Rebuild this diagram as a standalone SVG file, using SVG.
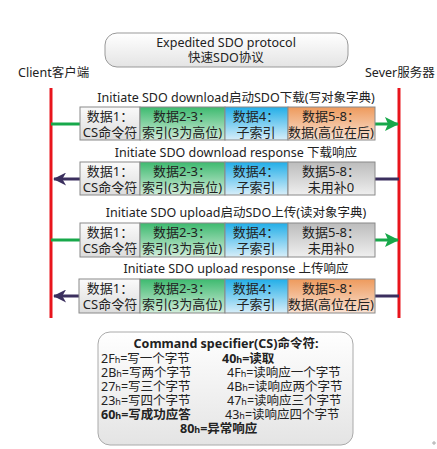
<svg xmlns="http://www.w3.org/2000/svg" width="437" height="449" viewBox="0 0 437 449">
<style>
text{font-family:"Noto Sans","Noto Sans CJK SC",sans-serif;fill:#222;font-size:13px}
.c{text-anchor:middle}
.b{font-weight:bold}
.l{font-size:12.5px}
.lg{font-size:12.5px}
.box{stroke:#8a8a8a;stroke-width:1}
.red{stroke:#e8141c;stroke-width:3}
.g{stroke:#17a84a;stroke-width:3;fill:none}
.p{stroke:#3b2f5e;stroke-width:3;fill:none}
.s{font-size:9px}
</style>
<defs>
<linearGradient id="gw" x1="0" y1="0" x2="0" y2="1"><stop offset="0" stop-color="#fafafa"/><stop offset="1" stop-color="#dcdcdc"/></linearGradient>
<linearGradient id="gg" x1="0" y1="0" x2="0" y2="1"><stop offset="0" stop-color="#3dba6f"/><stop offset="1" stop-color="#d2ecda"/></linearGradient>
<linearGradient id="gb" x1="0" y1="0" x2="0" y2="1"><stop offset="0" stop-color="#22aee8"/><stop offset="1" stop-color="#d8eef9"/></linearGradient>
<linearGradient id="go" x1="0" y1="0" x2="0" y2="1"><stop offset="0" stop-color="#ee9a5c"/><stop offset="1" stop-color="#f9e2d3"/></linearGradient>
<linearGradient id="gy" x1="0" y1="0" x2="0" y2="1"><stop offset="0" stop-color="#bcbcbc"/><stop offset="1" stop-color="#efefef"/></linearGradient>
<linearGradient id="gt" x1="0" y1="0" x2="0" y2="1"><stop offset="0" stop-color="#ffffff"/><stop offset="1" stop-color="#e4e4e4"/></linearGradient>
<marker id="ag" viewBox="0 0 14 14" refX="13" refY="7" markerWidth="14" markerHeight="14" markerUnits="userSpaceOnUse" orient="auto"><path d="M0,0 L14,7 L0,14 L3,7 Z" fill="#17a84a"/></marker>
<marker id="ap" viewBox="0 0 14 14" refX="13" refY="7" markerWidth="15" markerHeight="13" markerUnits="userSpaceOnUse" orient="auto"><path d="M0,0 L14,7 L0,14 L4,7 Z" fill="#3b2f5e"/></marker>
</defs>

<g id="title">
<rect x="105" y="33" width="243" height="34" rx="12" fill="url(#gt)" stroke="#999"/>
<text class="c l" x="226" y="47">Expedited SDO protocol</text>
<text class="c l" x="226" y="62">快速SDO协议</text>
</g>
<g id="client"><text class="l" x="18" y="77">Client客户端</text><line class="red" x1="51" y1="88" x2="51" y2="318"/></g>
<g id="server"><text class="l" x="365" y="77">Sever服务器</text><line class="red" x1="399" y1="88" x2="399" y2="318"/></g>

<g id="connectors">
<line class="g" x1="51" y1="124" x2="80" y2="124"/>
<line class="g" x1="375" y1="124" x2="398" y2="124" marker-end="url(#ag)"/>
<line class="p" x1="80" y1="179" x2="54" y2="179" marker-end="url(#ap)"/>
<line class="p" x1="399" y1="179" x2="375" y2="179"/>
<line class="g" x1="51" y1="240" x2="80" y2="240"/>
<line class="g" x1="375" y1="240" x2="398" y2="240" marker-end="url(#ag)"/>
<line class="p" x1="80" y1="296" x2="54" y2="296" marker-end="url(#ap)"/>
<line class="p" x1="399" y1="296" x2="375" y2="296"/>
</g>

<g id="row1">
<text class="c l" x="236" y="102">Initiate SDO download启动SDO下载(写对象字典)</text>
<rect class="box" x="80" y="107" width="60" height="33" fill="url(#gw)"/>
<rect class="box" x="140" y="107" width="85" height="33" fill="url(#gg)"/>
<rect class="box" x="225" y="107" width="63" height="33" fill="url(#gb)"/>
<rect class="box" x="288" y="107" width="87" height="33" fill="url(#go)"/>
<text class="c" x="110" y="121">数据1：</text><text class="c" x="110" y="137">CS命令符</text>
<text class="c" x="182" y="121">数据2-3：</text><text class="c" x="182" y="137">索引(3为高位)</text>
<text class="c" x="256" y="121">数据4：</text><text class="c" x="256" y="137">子索引</text>
<text class="c" x="331" y="121">数据5-8：</text><text class="c" x="331" y="137">数据(高位在后)</text>
</g>

<g id="row2">
<text class="c l" x="236" y="157">Initiate SDO download response 下载响应</text>
<rect class="box" x="80" y="162" width="60" height="33" fill="url(#gw)"/>
<rect class="box" x="140" y="162" width="85" height="33" fill="url(#gg)"/>
<rect class="box" x="225" y="162" width="63" height="33" fill="url(#gb)"/>
<rect class="box" x="288" y="162" width="87" height="33" fill="url(#gy)"/>
<text class="c" x="110" y="176">数据1：</text><text class="c" x="110" y="192">CS命令符</text>
<text class="c" x="182" y="176">数据2-3：</text><text class="c" x="182" y="192">索引(3为高位)</text>
<text class="c" x="256" y="176">数据4：</text><text class="c" x="256" y="192">子索引</text>
<text class="c" x="331" y="176">数据5-8：</text><text class="c" x="331" y="192">未用补0</text>
</g>

<g id="row3">
<text class="c l" x="236" y="217">Initiate SDO upload启动SDO上传(读对象字典)</text>
<rect class="box" x="80" y="223" width="60" height="34" fill="url(#gw)"/>
<rect class="box" x="140" y="223" width="85" height="34" fill="url(#gg)"/>
<rect class="box" x="225" y="223" width="63" height="34" fill="url(#gb)"/>
<rect class="box" x="288" y="223" width="87" height="34" fill="url(#gy)"/>
<text class="c" x="110" y="237">数据1：</text><text class="c" x="110" y="253">CS命令符</text>
<text class="c" x="182" y="237">数据2-3：</text><text class="c" x="182" y="253">索引(3为高位)</text>
<text class="c" x="256" y="237">数据4：</text><text class="c" x="256" y="253">子索引</text>
<text class="c" x="331" y="237">数据5-8：</text><text class="c" x="331" y="253">未用补0</text>
</g>

<g id="row4">
<text class="c l" x="236" y="273">Initiate SDO upload response 上传响应</text>
<rect class="box" x="79" y="279" width="61" height="34" fill="url(#gw)"/>
<rect class="box" x="140" y="279" width="85" height="34" fill="url(#gg)"/>
<rect class="box" x="225" y="279" width="63" height="34" fill="url(#gb)"/>
<rect class="box" x="288" y="279" width="87" height="34" fill="url(#go)"/>
<text class="c" x="110" y="293">数据1：</text><text class="c" x="110" y="309">CS命令符</text>
<text class="c" x="182" y="293">数据2-3：</text><text class="c" x="182" y="309">索引(3为高位)</text>
<text class="c" x="256" y="293">数据4：</text><text class="c" x="256" y="309">子索引</text>
<text class="c" x="331" y="293">数据5-8：</text><text class="c" x="331" y="309">数据(高位在后)</text>
</g>

<g id="legend">
<rect x="98" y="332" width="255" height="113" rx="12" fill="url(#gt)" stroke="#aaa"/>
<text class="c b lg" x="226" y="348">Command specifier(CS)命令符:</text>
<text class="lg" x="101" y="363">2F<tspan class="s">h</tspan>=写一个字节</text>
<text class="lg" x="101" y="377">2B<tspan class="s">h</tspan>=写两个字节</text>
<text class="lg" x="101" y="391">27<tspan class="s">h</tspan>=写三个字节</text>
<text class="lg" x="101" y="405">23<tspan class="s">h</tspan>=写四个字节</text>
<text class="b lg" x="101" y="419">60<tspan class="s">h</tspan>=写成功应答</text>
<text class="b lg" x="222" y="363">40<tspan class="s">h</tspan>=读取</text>
<text class="lg" x="227" y="377">4F<tspan class="s">h</tspan>=读响应一个字节</text>
<text class="lg" x="227" y="391">4B<tspan class="s">h</tspan>=读响应两个字节</text>
<text class="lg" x="227" y="405">47<tspan class="s">h</tspan>=读响应三个字节</text>
<text class="lg" x="225" y="419">43<tspan class="s">h</tspan>=读响应四个字节</text>
<text class="b lg" x="180" y="433">80<tspan class="s">h</tspan>=异常响应</text>
</g>
<path d="M432,443 h4 M434,441 v4" stroke="#aaa" stroke-width="1"/>
</svg>
